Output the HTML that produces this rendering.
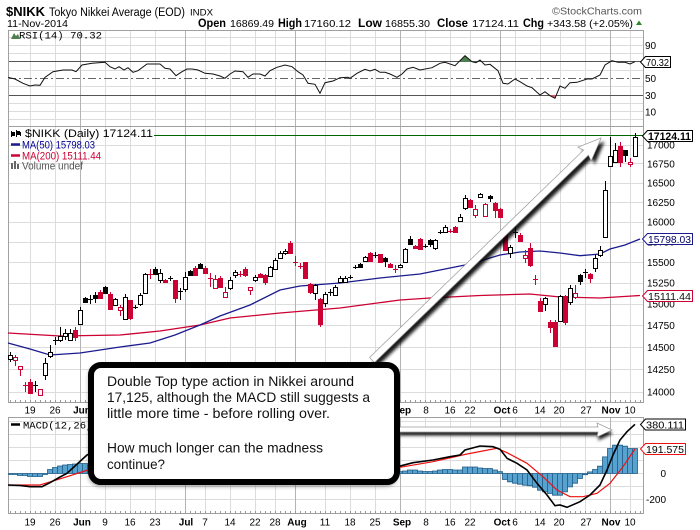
<!DOCTYPE html>
<html><head><meta charset="utf-8"><style>
html,body{margin:0;padding:0;background:#fff;}
svg{display:block;}
text{font-family:"Liberation Sans",Arial,sans-serif;}
.mono{font-family:"Liberation Mono","DejaVu Sans Mono",monospace;}
.hb{fill:#fff;stroke:#000;stroke-width:1}
.fb{fill:#000;stroke:#000;stroke-width:1}
.hr{fill:#fff;stroke:#cc0033;stroke-width:1}
.fr{fill:#cc0033;stroke:#cc0033;stroke-width:1}
</style></head><body>
<svg width="700" height="530" viewBox="0 0 700 530" xmlns="http://www.w3.org/2000/svg">
<defs>
<filter id="blur" x="-20%" y="-200%" width="140%" height="500%"><feGaussianBlur stdDeviation="1.6"/></filter>
<filter id="bblur" x="-10%" y="-20%" width="120%" height="140%"><feGaussianBlur stdDeviation="2.5"/></filter>
<pattern id="tk" x="10" y="0" width="5" height="3" patternUnits="userSpaceOnUse"><rect x="0" y="0" width="1" height="3" fill="#999"/></pattern>
</defs>
<rect width="700" height="530" fill="#fff"/>

<!-- header -->
<text x="6" y="16" font-size="13" font-weight="bold" textLength="39" lengthAdjust="spacingAndGlyphs">$NIKK</text>
<text x="49" y="16" font-size="11.5" textLength="136" lengthAdjust="spacingAndGlyphs">Tokyo Nikkei Average (EOD)</text>
<text x="190" y="15.5" font-size="9" textLength="23" lengthAdjust="spacingAndGlyphs">INDX</text>
<text x="7" y="27" font-size="10.5" textLength="61" lengthAdjust="spacingAndGlyphs">11-Nov-2014</text>
<text x="552" y="14.5" font-size="10.5" fill="#555" textLength="90" lengthAdjust="spacingAndGlyphs">©StockCharts.com</text>
<g font-size="10.5">
<text x="198" y="27" font-weight="bold" font-size="11.5" textLength="28" lengthAdjust="spacingAndGlyphs">Open</text>
<text x="230" y="27" textLength="44" lengthAdjust="spacingAndGlyphs">16869.49</text>
<text x="278" y="27" font-weight="bold" font-size="11.5" textLength="24" lengthAdjust="spacingAndGlyphs">High</text>
<text x="304" y="27" textLength="47" lengthAdjust="spacingAndGlyphs">17160.12</text>
<text x="358" y="27" font-weight="bold" font-size="11.5" textLength="24" lengthAdjust="spacingAndGlyphs">Low</text>
<text x="385" y="27" textLength="45" lengthAdjust="spacingAndGlyphs">16855.30</text>
<text x="437" y="27" font-weight="bold" font-size="11.5" textLength="31" lengthAdjust="spacingAndGlyphs">Close</text>
<text x="472" y="27" textLength="47" lengthAdjust="spacingAndGlyphs">17124.11</text>
<text x="523" y="27" font-weight="bold" font-size="11.5" textLength="21" lengthAdjust="spacingAndGlyphs">Chg</text>
<text x="547" y="27" textLength="86" lengthAdjust="spacingAndGlyphs">+343.58 (+2.05%)</text>
</g>
<polygon points="636,25 639,20.5 642,25" fill="#2a8a2a"/>

<!-- light vertical grid -->
<path d="M30.5 30V403M55.5 30V403M105.5 30V403M130.5 30V403M155.5 30V403M205.5 30V403M230.5 30V403M255.5 30V403M275.5 30V403M325.5 30V403M350.5 30V403M375.5 30V403M425.5 30V403M450.5 30V403M470.5 30V403M515.5 30V403M540.5 30V403M560.5 30V403M585.5 30V403M630.5 30V403
M30.5 417V514M55.5 417V514M105.5 417V514M130.5 417V514M155.5 417V514M205.5 417V514M230.5 417V514M255.5 417V514M275.5 417V514M325.5 417V514M350.5 417V514M375.5 417V514M425.5 417V514M450.5 417V514M470.5 417V514M515.5 417V514M540.5 417V514M560.5 417V514M585.5 417V514M630.5 417V514" stroke="#dcdcdc" stroke-width="1" fill="none"/>
<!-- light horizontal grid -->
<path d="M8 37.5H643M8 45.5H643M8 53.5H643M8 70.5H643M8 86.5H643M8 103.5H643M8 111.5H643M8 119.5H643
M8 145.5H643M8 163.5H643M8 183.5H643M8 202.5H643M8 222.5H643M8 242.5H643M8 262.5H643M8 283.5H643M8 304.5H643M8 325.5H643M8 347.5H643M8 369.5H643M8 392.5H643
M8 421.5H643M8 434.5H643M8 447.5H643M8 460.5H643M8 473.5H643M8 486.5H643M8 499.5H643" stroke="#dcdcdc" stroke-width="1" fill="none"/>
<!-- month lines -->
<path d="M80.5 30V403M185.5 30V403M295.5 30V403M400.5 30V403M500.5 30V403M610.5 30V403M80.5 417V514M185.5 417V514M295.5 417V514M400.5 417V514M500.5 417V514M610.5 417V514" stroke="#b4b4b4" stroke-width="1" fill="none"/>
<!-- RSI reference lines -->
<path d="M8 61.5H643M8 95.5H643" stroke="#555" stroke-width="1"/>
<path d="M8 78.5H643" stroke="#666" stroke-width="1" stroke-dasharray="8,3,2,3"/>

<!-- panel borders -->
<rect x="8.5" y="30.5" width="635" height="96" fill="none" stroke="#a0a0a0"/>
<rect x="8.5" y="126.5" width="635" height="276" fill="none" stroke="#a0a0a0"/>
<rect x="8.5" y="417.5" width="635" height="96" fill="none" stroke="#a0a0a0"/>
<rect x="8" y="400" width="635" height="3" fill="url(#tk)"/>
<rect x="8" y="511" width="635" height="3" fill="url(#tk)"/>

<!-- RSI -->
<polygon points="458.7,62 465,55.7 472,62" fill="#4f7f4f"/>
<polygon points="477.5,62 480,60 482,62" fill="#4f7f4f"/>
<polygon points="549,95 550,95.7 555,98.3 556,95" fill="#d06060"/>
<polyline fill="none" stroke="#111" stroke-width="1" points="8,77.3 15,79 23,83.3 30,86 35,85 40,85.3 45,77.3 53,71.7 63,70 72,70 76,71.7 82,65 92,63.3 105,62.3 110,66.7 115,69 119,66.7 124,70 128,67.7 133,72.3 138,70.7 147,64 160,64 165,68.3 170,69 176,75.7 182,71.7 187,69 192,69 198,70 205,73.3 213,74 220,76 225,78.3 230,74 235,71 243,71.7 248,77.3 253,74 260,74 265,76 270,70.7 277,67.3 285,65 292,66.7 298,71.7 303,75 308,83.3 315,84.3 320,93.3 325,82.7 333,81 340,77.7 348,77.3 350,78.3 357,73.3 365,69.3 370,71 375,69.3 380,72.3 385,72.3 390,74 397,77.3 402,74 407,69 413,67.3 420,70 432,67.7 440,63.3 445,62.3 455,65.7 465,55.7 472,61.7 476,62.7 480,60 485,65 490,64.3 498,70.7 503,83.3 508,84 515,79 520,81.7 527,86 532,87.7 540,95 545,91.7 550,95.7 555,98.3 560,86 565,88.3 570,82.7 577,82.3 587,79 592,79 600,75 605,65 612,60.7 618,62.3 625,62.3 630,64 635,61.7"/>
<polygon points="11,39 14,33 16,36 18,34 20,39" fill="#4f7f4f"/>
<text x="19" y="38.5" class="mono" font-size="10.5" textLength="83" lengthAdjust="spacingAndGlyphs">RSI(14) 70.32</text>
<g font-size="10">
<text x="645" y="49">90</text>
<text x="645" y="82">50</text>
<text x="645" y="99">30</text>
<text x="645" y="115.5">10</text>
</g>
<polygon points="640.5,62 645.5,56.5 670.5,56.5 670.5,67.5 645.5,67.5" fill="#fff" stroke="#000"/>
<text x="646" y="65.8" font-size="10" textLength="23" lengthAdjust="spacingAndGlyphs">70.32</text>

<!-- main panel -->
<path d="M154 135.5H643" stroke="#006600" stroke-width="1"/>
<polyline fill="none" stroke="#cc0033" stroke-width="1.3" points="8,333 60,336 120,335 160,331 200,325 230,318 280,313 340,308 400,300 430,298 480,295.5 530,294 560,297 600,298 640,295.5"/>
<polyline fill="none" stroke="#1b1b8f" stroke-width="1.3" points="8,343 30,349 50,355 80,353 120,347 150,343 175,335 200,325 220,316 250,305 280,290 300,286 340,283 380,278 420,274 440,270 470,264 500,255 520,252 540,251 560,253 580,255.7 600,254 610,249 625,245 640,239"/>

<path fill="none" stroke="#000" stroke-width="1" d="M10.5 352V362M35.5 381V392M45.5 358V380M50.5 345V358M55.5 337V345M60.5 327V342M65.5 329V340M70.5 329V341M80.5 307V324M85.5 297V303M90.5 295V304M95.5 292V303M105.5 286V294M115.5 298V305M125.5 294V319M135.5 305V309M140.5 293V306M145.5 273V293M155.5 267V275M160.5 269V283M170.5 276V281M180.5 288V300M185.5 272V292M190.5 270V276M200.5 263V269M230.5 277V290M235.5 270V278M255.5 275V282M270.5 266V277M275.5 258V270M280.5 251V259M285.5 249V255M315.5 284V300M325.5 292V307M330.5 289V296M335.5 285V296M340.5 276V283M345.5 276V283M350.5 275V279M355.5 265V269M360.5 263V268M365.5 256V262M375.5 252V258M385.5 257V267M400.5 264V268M405.5 248V262M410.5 236V245M425.5 244V248M430.5 239V247M435.5 239V250M440.5 230V234M445.5 225V233M460.5 214V222M465.5 195V210M480.5 193V198M490.5 195V202M510.5 245V258M515.5 225V238M545.5 297V311M560.5 295V321M570.5 285V305M580.5 274V285M585.5 269V278M595.5 255V272M600.5 246V257M605.5 181V237M610.5 137V166M615.5 143V162M625.5 150V162M635.5 133V157M33 385.5h5M53 340.5h5M88 299.5h5M133 307.5h5M168 278.5h5M178 291.5h5M328 292.5h5M348 277.5h5M353 267.5h5M373 255.5h5M423 246.5h5M438 232.5h5M513 232.5h5M583 272.5h5"/>
<path fill="none" stroke="#cc0033" stroke-width="1" d="M15.5 355V366M20.5 366V376M25.5 382V392M30.5 379V393M40.5 389V395M75.5 327V341M100.5 290V299M110.5 292V309M120.5 305V316M130.5 300V320M150.5 269V279M165.5 279V283M175.5 280V303M195.5 266V275M205.5 266V273M210.5 273V287M215.5 275V289M220.5 276V288M225.5 287V297M240.5 271V277M245.5 267V277M250.5 287V295M260.5 273V278M265.5 274V285M290.5 241V253M295.5 256V266M300.5 263V269M305.5 262V278M310.5 283V294M320.5 298V327M370.5 252V262M380.5 254V262M390.5 263V268M395.5 265V273M415.5 245V249M420.5 238V249M450.5 229V233M455.5 226V232M470.5 199V208M475.5 205V218M485.5 203V217M495.5 202V218M500.5 208V218M505.5 228V250M520.5 233V242M525.5 250V263M530.5 243V267M535.5 275V285M540.5 298V311M550.5 320V333M555.5 320V346M565.5 295V325M575.5 285V299M590.5 273V283M620.5 142V167M630.5 158V167M23 385.5h5M148 274.5h5M208 278.5h5M238 274.5h5M293 262.5h5M298 266.5h5M393 269.5h5M448 231.5h5M533 279.5h5"/>

<g>
<rect class="hb" x="8.5" y="355.5" width="4" height="4"/>
<rect class="hb" x="43.5" y="363.5" width="4" height="12"/>
<rect class="hb" x="48.5" y="352.5" width="4" height="4"/>
<rect class="hb" x="58.5" y="336.5" width="4" height="4"/>
<rect class="hb" x="63.5" y="333.5" width="4" height="3"/>
<rect class="hb" x="68.5" y="333.5" width="4" height="7"/>
<rect class="hb" x="78.5" y="310.5" width="4" height="14"/>
<rect class="fb" x="83.5" y="298.5" width="4" height="4"/>
<rect class="fb" x="93.5" y="295.5" width="4" height="3"/>
<rect class="fb" x="103.5" y="287.5" width="4" height="6"/>
<rect class="hb" x="113.5" y="299.5" width="4" height="6"/>
<rect class="hb" x="123.5" y="297.5" width="4" height="22"/>
<rect class="hb" x="138.5" y="295.5" width="4" height="9"/>
<rect class="hb" x="143.5" y="274.5" width="4" height="19"/>
<rect class="fb" x="153.5" y="269.5" width="4" height="5"/>
<rect class="hb" x="158.5" y="273.5" width="4" height="7"/>
<rect class="hb" x="183.5" y="277.5" width="4" height="12"/>
<rect class="fb" x="188.5" y="271.5" width="4" height="4"/>
<rect class="fb" x="198.5" y="264.5" width="4" height="4"/>
<rect class="hb" x="228.5" y="280.5" width="4" height="8"/>
<rect class="hb" x="233.5" y="272.5" width="4" height="3"/>
<rect class="hb" x="253.5" y="277.5" width="4" height="3"/>
<rect class="hb" x="268.5" y="267.5" width="4" height="9"/>
<rect class="hb" x="273.5" y="260.5" width="4" height="9"/>
<rect class="hb" x="278.5" y="253.5" width="4" height="5"/>
<rect class="hb" x="283.5" y="251.5" width="4" height="2"/>
<rect class="hb" x="313.5" y="285.5" width="4" height="8"/>
<rect class="hb" x="323.5" y="294.5" width="4" height="9"/>
<rect class="hb" x="333.5" y="287.5" width="4" height="8"/>
<rect class="hb" x="338.5" y="278.5" width="4" height="4"/>
<rect class="hb" x="343.5" y="278.5" width="4" height="4"/>
<rect class="fb" x="358.5" y="264.5" width="4" height="3"/>
<rect class="hb" x="363.5" y="257.5" width="4" height="4"/>
<rect class="fb" x="383.5" y="258.5" width="4" height="3"/>
<rect class="hb" x="398.5" y="265.5" width="4" height="2"/>
<rect class="hb" x="403.5" y="249.5" width="4" height="13"/>
<rect class="fb" x="408.5" y="239.5" width="4" height="5"/>
<rect class="fb" x="428.5" y="240.5" width="4" height="4"/>
<rect class="hb" x="433.5" y="240.5" width="4" height="8"/>
<rect class="hb" x="443.5" y="227.5" width="4" height="5"/>
<rect class="hb" x="458.5" y="217.5" width="4" height="4"/>
<rect class="hb" x="463.5" y="198.5" width="4" height="10"/>
<rect class="hb" x="478.5" y="194.5" width="4" height="3"/>
<rect class="fb" x="488.5" y="196.5" width="4" height="2"/>
<rect class="hb" x="508.5" y="247.5" width="4" height="6"/>
<rect class="hb" x="543.5" y="298.5" width="4" height="6"/>
<rect class="hb" x="558.5" y="296.5" width="4" height="25"/>
<rect class="hb" x="568.5" y="288.5" width="4" height="14"/>
<rect class="fb" x="578.5" y="275.5" width="4" height="6"/>
<rect class="hb" x="593.5" y="258.5" width="4" height="10"/>
<rect class="hb" x="598.5" y="250.5" width="4" height="5"/>
<rect class="hb" x="603.5" y="190.5" width="4" height="47"/>
<rect class="hb" x="608.5" y="156.5" width="4" height="10"/>
<rect class="hb" x="613.5" y="150.5" width="4" height="12"/>
<rect class="fb" x="623.5" y="150.5" width="4" height="5"/>
<rect class="hb" x="633.5" y="137.5" width="4" height="19"/>

<rect class="hr" x="13.5" y="357.5" width="4" height="3"/>
<rect class="hr" x="18.5" y="366.5" width="4" height="3"/>
<rect class="fr" x="28.5" y="382.5" width="4" height="11"/>
<rect class="hr" x="38.5" y="389.5" width="4" height="6"/>
<rect class="fr" x="73.5" y="330.5" width="4" height="7"/>
<rect class="fr" x="98.5" y="292.5" width="4" height="6"/>
<rect class="fr" x="108.5" y="294.5" width="4" height="15"/>
<rect class="hr" x="118.5" y="307.5" width="4" height="3"/>
<rect class="fr" x="128.5" y="300.5" width="4" height="18"/>
<rect class="fr" x="163.5" y="280.5" width="4" height="2"/>
<rect class="fr" x="173.5" y="280.5" width="4" height="18"/>
<rect class="fr" x="193.5" y="268.5" width="4" height="7"/>
<rect class="fr" x="203.5" y="268.5" width="4" height="5"/>
<rect class="hr" x="213.5" y="279.5" width="4" height="9"/>
<rect class="fr" x="218.5" y="278.5" width="4" height="9"/>
<rect class="hr" x="223.5" y="292.5" width="4" height="5"/>
<rect class="fr" x="243.5" y="269.5" width="4" height="6"/>
<rect class="hr" x="248.5" y="287.5" width="4" height="3"/>
<rect class="fr" x="258.5" y="274.5" width="4" height="3"/>
<rect class="fr" x="263.5" y="275.5" width="4" height="7"/>
<rect class="fr" x="288.5" y="243.5" width="4" height="10"/>
<rect class="fr" x="303.5" y="262.5" width="4" height="16"/>
<rect class="fr" x="308.5" y="284.5" width="4" height="8"/>
<rect class="fr" x="318.5" y="299.5" width="4" height="25"/>
<rect class="fr" x="368.5" y="253.5" width="4" height="8"/>
<rect class="fr" x="378.5" y="254.5" width="4" height="8"/>
<rect class="fr" x="388.5" y="264.5" width="4" height="3"/>
<rect class="fr" x="413.5" y="246.5" width="4" height="2"/>
<rect class="fr" x="418.5" y="239.5" width="4" height="10"/>
<rect class="fr" x="453.5" y="227.5" width="4" height="5"/>
<rect class="fr" x="468.5" y="200.5" width="4" height="7"/>
<rect class="hr" x="473.5" y="209.5" width="4" height="6"/>
<rect class="hr" x="483.5" y="204.5" width="4" height="12"/>
<rect class="fr" x="493.5" y="203.5" width="4" height="7"/>
<rect class="fr" x="498.5" y="209.5" width="4" height="8"/>
<rect class="fr" x="503.5" y="232.5" width="4" height="18"/>
<rect class="fr" x="518.5" y="235.5" width="4" height="6"/>
<rect class="hr" x="523.5" y="255.5" width="4" height="3"/>
<rect class="fr" x="528.5" y="248.5" width="4" height="17"/>
<rect class="fr" x="538.5" y="301.5" width="4" height="10"/>
<rect class="fr" x="548.5" y="322.5" width="4" height="5"/>
<rect class="fr" x="553.5" y="322.5" width="4" height="24"/>
<rect class="fr" x="563.5" y="296.5" width="4" height="26"/>
<rect class="hr" x="573.5" y="293.5" width="4" height="4"/>
<rect class="fr" x="588.5" y="274.5" width="4" height="4"/>
<rect class="fr" x="618.5" y="146.5" width="4" height="16"/>
<rect class="hr" x="628.5" y="162.5" width="4" height="2"/>
</g>

<!-- main legend -->
<g fill="#000">
<rect x="11" y="131" width="1" height="6"/><rect x="12" y="132" width="3" height="4"/>
<rect x="16" y="130" width="1" height="7"/><rect x="17" y="131" width="3" height="4"/><rect x="20" y="132" width="1" height="4"/>
</g>
<text x="25" y="137" font-size="11" textLength="128" lengthAdjust="spacingAndGlyphs">$NIKK (Daily) 17124.11</text>
<path d="M11 144.5H20" stroke="#1b1b8f" stroke-width="2.5"/>
<text x="22" y="148.5" font-size="11" fill="#000099" textLength="73" lengthAdjust="spacingAndGlyphs">MA(50) 15798.03</text>
<path d="M11 155.5H20" stroke="#cc0033" stroke-width="2.5"/>
<text x="22" y="159.5" font-size="11" fill="#cc0033" textLength="79" lengthAdjust="spacingAndGlyphs">MA(200) 15111.44</text>
<g fill="#666"><rect x="11" y="163" width="2" height="6"/><rect x="14" y="161" width="2" height="8"/><rect x="17" y="164" width="2" height="5"/></g>
<text x="22" y="169.5" font-size="11" fill="#555" textLength="61" lengthAdjust="spacingAndGlyphs">Volume undef</text>

<!-- price axis -->
<g font-size="10" fill="#000">
<text x="647" y="148.5">17000</text>
<text x="647" y="167.3">16750</text>
<text x="647" y="186.5">16500</text>
<text x="647" y="206">16250</text>
<text x="647" y="225.6">16000</text>
<text x="647" y="245.6">15750</text>
<text x="647" y="266">15500</text>
<text x="647" y="286.7">15250</text>
<text x="647" y="307.7">15000</text>
<text x="647" y="329.1">14750</text>
<text x="647" y="350.8">14500</text>
<text x="647" y="372.9">14250</text>
<text x="647" y="395.5">14000</text>
</g>
<polygon points="642.5,136 647.5,130.5 692.5,130.5 692.5,141.5 647.5,141.5" fill="#fff" stroke="#000"/>
<text x="648" y="140" font-size="11" font-weight="bold" textLength="43" lengthAdjust="spacingAndGlyphs">17124.11</text>
<polygon points="642.5,239 647.5,233.5 692.5,233.5 692.5,244.5 647.5,244.5" fill="#fff" stroke="#1b1b8f"/>
<text x="648" y="243" font-size="10.5" fill="#000066" textLength="43" lengthAdjust="spacingAndGlyphs">15798.03</text>
<polygon points="642.5,296 647.5,290.5 692.5,290.5 692.5,301.5 647.5,301.5" fill="#fff" stroke="#cc0033"/>
<text x="648" y="300" font-size="10.5" fill="#111" textLength="43" lengthAdjust="spacingAndGlyphs">15111.44</text>

<!-- x axis labels -->
<g font-size="10" text-anchor="middle">
<text x="30" y="413.5">19</text><text x="55" y="413.5">26</text><text x="82" y="413.5" font-weight="bold">Jun</text>
<text x="105" y="413.5">9</text><text x="130" y="413.5">16</text><text x="155" y="413.5">23</text><text x="186" y="413.5" font-weight="bold">Jul</text>
<text x="205" y="413.5">7</text><text x="230" y="413.5">14</text><text x="255" y="413.5">22</text><text x="275" y="413.5">28</text>
<text x="297" y="413.5" font-weight="bold">Aug</text><text x="325" y="413.5">11</text><text x="350" y="413.5">18</text><text x="375" y="413.5">25</text>
<text x="402" y="413.5" font-weight="bold">Sep</text><text x="426" y="413.5">8</text><text x="450" y="413.5">16</text><text x="470" y="413.5">22</text>
<text x="502" y="413.5" font-weight="bold">Oct</text><text x="515" y="413.5">6</text><text x="540" y="413.5">14</text><text x="559" y="413.5">20</text>
<text x="586" y="413.5">27</text><text x="611" y="413.5" font-weight="bold">Nov</text><text x="630" y="413.5">10</text>

<text x="30" y="525.5">19</text><text x="55" y="525.5">26</text><text x="82" y="525.5" font-weight="bold">Jun</text>
<text x="105" y="525.5">9</text><text x="130" y="525.5">16</text><text x="155" y="525.5">23</text><text x="186" y="525.5" font-weight="bold">Jul</text>
<text x="205" y="525.5">7</text><text x="230" y="525.5">14</text><text x="255" y="525.5">22</text><text x="275" y="525.5">28</text>
<text x="297" y="525.5" font-weight="bold">Aug</text><text x="325" y="525.5">11</text><text x="350" y="525.5">18</text><text x="375" y="525.5">25</text>
<text x="402" y="525.5" font-weight="bold">Sep</text><text x="426" y="525.5">8</text><text x="450" y="525.5">16</text><text x="470" y="525.5">22</text>
<text x="502" y="525.5" font-weight="bold">Oct</text><text x="515" y="525.5">6</text><text x="540" y="525.5">14</text><text x="559" y="525.5">20</text>
<text x="586" y="525.5">27</text><text x="611" y="525.5" font-weight="bold">Nov</text><text x="630" y="525.5">10</text>
</g>

<!-- MACD -->
<path fill="#58a2cf" stroke="#1e5b85" stroke-width="0.8" d="M8.5 473.5V474.5h4V473.5zM12.5 473.5V474.5h5V473.5zM17.5 473.5V475.5h5V473.5zM22.5 473.5V475.5h5V473.5zM27.5 473.5V476.5h5V473.5zM32.5 473.5V476.5h5V473.5zM37.5 473.5V476.5h5V473.5zM42.5 473.5V474.5h5V473.5zM47.5 473.5V469.5h5V473.5zM52.5 473.5V467.5h5V473.5zM57.5 473.5V466h5V473.5zM62.5 473.5V465h5V473.5zM67.5 473.5V464.5h5V473.5zM72.5 473.5V464h5V473.5zM77.5 473.5V463.5h5V473.5zM82.5 473.5V463.5h5V473.5zM87.5 473.5V465H397.5V473.5zM397.5 473.5V471.7h5V473.5zM402.5 473.5V471h5V473.5zM407.5 473.5V470h5V473.5zM412.5 473.5V470h5V473.5zM417.5 473.5V471h5V473.5zM422.5 473.5V471.5h5V473.5zM427.5 473.5V471.5h5V473.5zM432.5 473.5V471h5V473.5zM437.5 473.5V470h5V473.5zM442.5 473.5V469.5h5V473.5zM447.5 473.5V469.5h5V473.5zM452.5 473.5V470h5V473.5zM457.5 473.5V470h5V473.5zM462.5 473.5V467h5V473.5zM467.5 473.5V467h5V473.5zM472.5 473.5V467h5V473.5zM477.5 473.5V468h5V473.5zM482.5 473.5V468.5h5V473.5zM487.5 473.5V468.5h5V473.5zM492.5 473.5V470h5V473.5zM497.5 473.5V471.7h5V473.5zM502.5 473.5V479.5h5V473.5zM507.5 473.5V481.8h5V473.5zM512.5 473.5V483.2h5V473.5zM517.5 473.5V484.2h5V473.5zM522.5 473.5V485.2h5V473.5zM527.5 473.5V485.7h5V473.5zM532.5 473.5V487.2h5V473.5zM537.5 473.5V490.2h5V473.5zM542.5 473.5V491.9h5V473.5zM547.5 473.5V493.5h5V473.5zM552.5 473.5V495.2h5V473.5zM557.5 473.5V495.2h5V473.5zM562.5 473.5V491.9h5V473.5zM567.5 473.5V486.9h5V473.5zM572.5 473.5V483.2h5V473.5zM577.5 473.5V478.5h5V473.5zM582.5 473.5V474.7h5V473.5zM587.5 473.5V471.9h5V473.5zM592.5 473.5V469.5h5V473.5zM597.5 473.5V466.2h5V473.5zM602.5 473.5V456.9h5V473.5zM607.5 473.5V448.5h5V473.5zM612.5 473.5V445.2h5V473.5zM617.5 473.5V445.2h5V473.5zM622.5 473.5V446.2h5V473.5zM627.5 473.5V448.5h5V473.5zM632.5 473.5V448.5h5V473.5z"/>
<polyline fill="none" stroke="#ee1111" stroke-width="1.2" points="8,485 40,485 67,476.7 88,470 120,462 160,457 200,455 260,454 320,456 360,460 400,467.3 433,461.7 467,454 497,448.3 507,452.7 527,463.3 543,476.7 557,490 570,496.7 583,496.7 597,493.3 610,483.3 623,466.7 635,449"/>
<polyline fill="none" stroke="#000" stroke-width="1.6" points="8,485 20,485.5 30,486.7 42,486.7 50,482.7 60,477 67,473.3 75,466 87,455 100,450 130,447 160,447 200,448 240,452 280,451 320,460 360,458 400,466 413,462.7 433,460 450,456.7 460,455 465,450 480,446 493,446.7 500,449.3 507,458.3 517,463.3 527,470 537,483.3 547,495 555,505.7 560,505 567,507.3 580,501.7 590,495 600,485 607,470 613,455 620,440 627,431.7 635,424.3"/>
<path d="M11 424.5H20" stroke="#000" stroke-width="2.5"/>
<text x="23" y="428.5" class="mono" font-size="10.5">MACD(12,26,9) 380.111, 191.575</text>
<g font-size="10" text-anchor="end">
<text x="666" y="477">0</text>
<text x="666" y="503">-200</text>
</g>
<polygon points="640.5,424.5 645.5,419 685.5,419 685.5,430 645.5,430" fill="#fff" stroke="#000"/>
<text x="646" y="428.5" font-size="10.5" textLength="38" lengthAdjust="spacingAndGlyphs">380.111</text>
<polygon points="640.5,449 645.5,443.5 685.5,443.5 685.5,454.5 645.5,454.5" fill="#fff" stroke="#ee1111"/>
<text x="646" y="453" font-size="10.5" textLength="38" lengthAdjust="spacingAndGlyphs">191.575</text>

<!-- big diagonal arrow -->
<g transform="translate(375.5,363.5) rotate(-44.1)" filter="url(#blur)">
<polygon points="0,-3.5 298,-3.5 296,-9.5 319,0 296,9.5 298,3.5 0,3.5" fill="#000" opacity="0.9"/>
</g>
<g transform="translate(372,360) rotate(-44.1)">
<polygon points="0,-3.5 298,-3.5 296,-9.5 319,0 296,9.5 298,3.5 0,3.5" fill="#fff" stroke="#9a9a9a" stroke-width="0.7"/>
</g>

<!-- horizontal arrow -->
<g transform="translate(1,3.5)" filter="url(#blur)">
<polygon points="398,427 598,427 597,423 612,430 597,437 598,432 398,432" fill="#000" opacity="0.9"/>
</g>
<polygon points="398,427 598,427 597,423 612,430 597,437 598,432 398,432" fill="#fff" stroke="#9a9a9a" stroke-width="0.7"/>

<!-- callout box -->
<rect x="89" y="366" width="308" height="120" rx="11" fill="#000" opacity="0.45" filter="url(#bblur)"/>
<rect x="91" y="365" width="306" height="117" rx="10" fill="#fff" stroke="#000" stroke-width="6"/>
<g font-size="14" fill="#111">
<text x="107" y="386" textLength="247" lengthAdjust="spacingAndGlyphs">Double Top type action in Nikkei around</text>
<text x="107" y="402" textLength="263" lengthAdjust="spacingAndGlyphs">17,125, although the MACD still suggests a</text>
<text x="107" y="418" textLength="223" lengthAdjust="spacingAndGlyphs">little more time - before rolling over.</text>
<text x="107" y="452.5" textLength="216" lengthAdjust="spacingAndGlyphs">How much longer can the madness</text>
<text x="107" y="469" textLength="58" lengthAdjust="spacingAndGlyphs">continue?</text>
</g>
</svg>
</body></html>
